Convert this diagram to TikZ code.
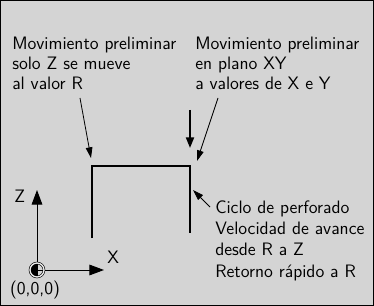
\documentclass[tikz,border=0pt]{standalone}
\usetikzlibrary{arrows.meta}
\definecolor{panelgray}{RGB}{212,212,212}

\begin{document}
\begin{tikzpicture}[x=0.75pt, y=-0.75pt,
    lbl/.style={font=\sffamily\fontsize{13.5}{15}\selectfont, align=left, anchor=base west, inner sep=0pt},
    pointer/.style={line width=0.6pt, -{Triangle[length=8pt,width=5pt]}},
    feed/.style={line width=1.5pt, -{Triangle[length=8pt,width=6pt]}},
    axis/.style={line width=0.75pt, -{Triangle[length=11pt,width=8pt]}},
    toolpath/.style={line width=2pt}]
    \useasboundingbox (0, 0) rectangle (374, 306);
    \fill [panelgray] (0, 0) rectangle (374, 306);
    \draw [line width=1pt] (0.7, 0.7) rectangle (373.3, 305.3);

    % base of a multi-line node is its last line
    \node [lbl] (prelimz) at (12, 90) {Movimiento preliminar\\solo Z se mueve\\al valor R};
    \node [lbl] (prelimxy) at (195, 90) {Movimiento preliminar\\en plano XY\\a valores de X e Y};
    \node [lbl, font=\sffamily\fontsize{13.5}{16}\selectfont] (cycle) at (215, 277)
        {Ciclo de perforado\\Velocidad de avance\\desde R a Z\\Retorno rápido a R};

    % drilling path
    \coordinate (rleft) at (92, 238);
    \coordinate (rtopl) at (92, 166);
    \coordinate (rtopr) at (190, 166);
    \coordinate (zbot) at (190, 233);
    \draw [toolpath] (rleft) -- (rtopl) -- (rtopr) -- (zbot);

    \coordinate (feedtail) at (190, 110);
    \coordinate (feedtip) at (190, 148);
    \draw [feed] (feedtail) -- (feedtip);

    \coordinate (ztail) at (80, 98);
    \coordinate (ztip) at (91, 158);
    \coordinate (xytail) at (218, 98);
    \coordinate (xytip) at (197, 161);
    \coordinate (cycletail) at (210, 207);
    \coordinate (cycletip) at (193, 190);
    \draw [pointer] (ztail) -- (ztip);
    \draw [pointer] (xytail) -- (xytip);
    \draw [pointer] (cycletail) -- (cycletip);

    % axes and zero point
    \coordinate (origin) at (37, 270);
    \coordinate (zaxis) at (37, 190);
    \coordinate (xaxis) at (104, 270);
    \draw [axis] (origin) -- (zaxis);
    \draw [axis] (origin) -- (xaxis);
    \fill (origin) -- ++(0, -7) arc [start angle=270, end angle=90, radius=7] -- cycle;
    \draw [line width=0.5pt] (origin) ++(-7, 0) -- ++(14, 0);
    \draw [line width=0.5pt] (origin) ++(0, -7) -- ++(0, 14);
    \draw [line width=0.45pt, double=panelgray!40!white, double distance=1pt] (origin) circle [radius=7];

    \node [lbl] (zlabel) at (14, 203) {Z};
    \node [lbl] (xlabel) at (107, 263) {X};
    \node [lbl, anchor=center] (zero) at (35, 290) {(0,0,0)};
\end{tikzpicture}
\end{document}
